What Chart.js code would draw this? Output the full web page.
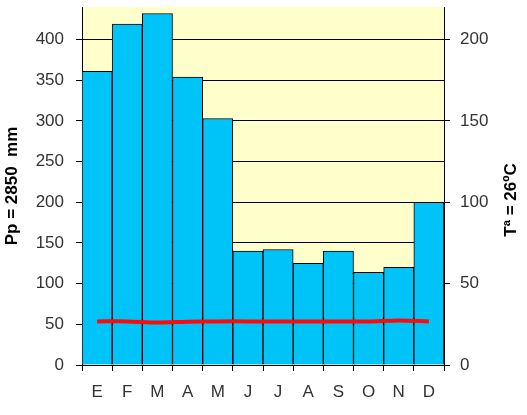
<!DOCTYPE html>
<html>
<head>
<meta charset="utf-8">
<script src="https://cdn.jsdelivr.net/npm/chart.js@4/dist/chart.umd.min.js"></script>
<style>
  html, body { margin: 0; padding: 0; background: #fff; }
  #wrap { width: 527px; height: 415px; }
</style>
</head>
<body>
<div id="wrap"><canvas id="climograma"></canvas></div>
<script>
// Climograma: precipitación mensual (barras) y temperatura (línea)
const meses = ['E', 'F', 'M', 'A', 'M', 'J', 'J', 'A', 'S', 'O', 'N', 'D'];
const precipitacion = [361, 419, 432, 354, 303, 140, 142, 125, 140, 114, 120, 200];
const temperatura = [26.8, 26.8, 26.1, 26.6, 26.8, 26.8, 26.8, 26.8, 26.8, 26.8, 27.4, 26.8];
const ticksPp = [0, 50, 100, 150, 200, 250, 300, 350, 400];
const ticksT = [0, 50, 100, 150, 200];

const tituloPp = 'Pp = 2850  mm';
const tituloT = 'Tª = 26ºC';

const fuente = { family: '"Liberation Sans", Arial, sans-serif', size: 17 };
const colorTexto = '#333333';

// fondo amarillo del área de trazado
const fondoArea = {
  id: 'fondoArea',
  beforeDraw(chart) {
    const { ctx, chartArea: a } = chart;
    ctx.save();
    ctx.fillStyle = '#FFFFCC';
    ctx.fillRect(a.left, a.top, a.right - a.left, a.bottom - a.top);
    ctx.restore();
  }
};

// título del eje derecho leído de abajo hacia arriba
const tituloDerecho = {
  id: 'tituloDerecho',
  afterDraw(chart) {
    const { ctx } = chart;
    ctx.save();
    ctx.translate(511, 200);
    ctx.rotate(-Math.PI / 2);
    ctx.font = 'bold 17px ' + fuente.family;
    ctx.fillStyle = '#000';
    ctx.textAlign = 'center';
    ctx.textBaseline = 'middle';
    ctx.fillText(tituloT, 0, 0);
    ctx.restore();
  }
};

// ancho fijo y sin relleno extra para las etiquetas extremas
const fijarEje = ancho => s => {
  s.width = ancho;
  s.paddingTop = 0;
  s.paddingBottom = 0;
};

new Chart(document.getElementById('climograma'), {
  data: {
    labels: meses,
    datasets: [
      {
        type: 'line',
        label: 'Temperatura',
        data: temperatura,
        yAxisID: 'yT',
        borderColor: '#FF0A0A',
        borderWidth: 4,
        pointRadius: 0,
        tension: 0.3,
        order: 1
      },
      {
        type: 'bar',
        label: 'Precipitación',
        data: precipitacion,
        yAxisID: 'yPp',
        backgroundColor: '#00C3F7',
        borderColor: '#000',
        borderWidth: 1,
        barPercentage: 1,
        categoryPercentage: 1,
        order: 2
      }
    ]
  },
  options: {
    responsive: true,
    maintainAspectRatio: false,
    animation: false,
    layout: { padding: { top: 7, left: 0, right: 0, bottom: 0 } },
    plugins: {
      legend: { display: false },
      tooltip: { enabled: false }
    },
    scales: {
      x: {
        afterFit: s => { s.height = 50; s.paddingLeft = 0; s.paddingRight = 0; },
        grid: { offset: true, drawOnChartArea: false, color: '#000', tickLength: 6 },
        border: { color: '#000', width: 1 },
        ticks: { color: colorTexto, font: fuente, padding: 11 }
      },
      yPp: {
        position: 'left',
        min: 0,
        max: 440,
        afterFit: fijarEje(82),
        afterBuildTicks: s => { s.ticks = ticksPp.map(v => ({ value: v })); },
        grid: { color: '#000', tickLength: 6 },
        border: { color: '#000', width: 1 },
        ticks: { color: colorTexto, font: fuente, padding: 12 },
        title: {
          display: true,
          text: tituloPp,
          color: '#000',
          font: { family: fuente.family, size: 17, weight: 'bold' },
          padding: { top: 2, bottom: 0 }
        }
      },
      yT: {
        position: 'right',
        min: 0,
        max: 220,
        afterFit: fijarEje(83),
        afterBuildTicks: s => { s.ticks = ticksT.map(v => ({ value: v })); },
        grid: { drawOnChartArea: false, color: '#000', tickLength: 6 },
        border: { color: '#000', width: 1 },
        ticks: { color: colorTexto, font: fuente, padding: 10 }
      }
    }
  },
  plugins: [fondoArea, tituloDerecho]
});
</script>
</body>
</html>
